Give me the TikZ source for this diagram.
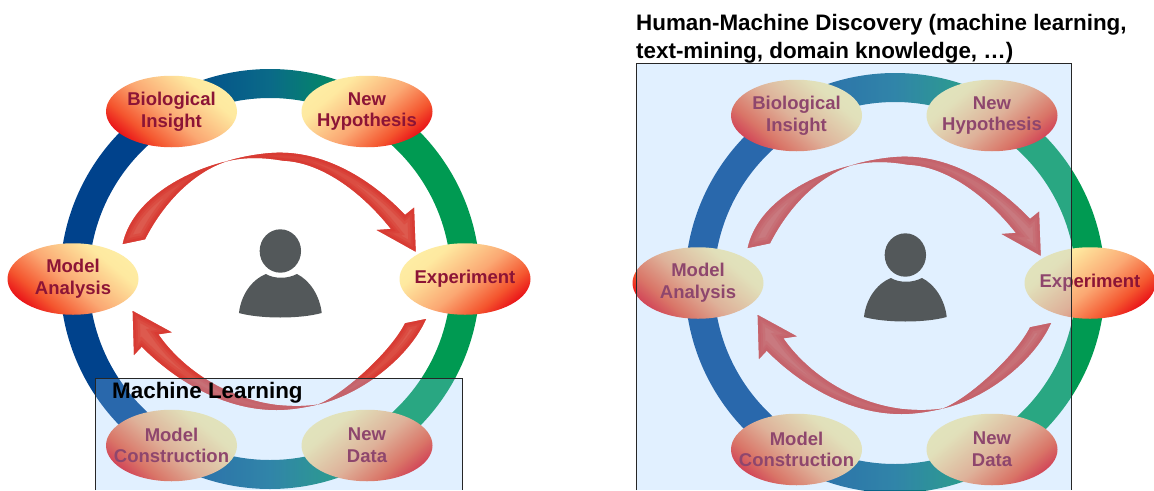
\documentclass[tikz,border=0pt]{standalone}
\usepackage{fontspec}
\setmainfont{Liberation Sans}
\usetikzlibrary{shapes.geometric}
\definecolor{capred}{HTML}{8C1436}
\definecolor{arrowred}{HTML}{DD5A4E}
\definecolor{arrowedge}{HTML}{D8352E}
\definecolor{iconcol}{HTML}{53585A}
\definecolor{boxblue}{RGB}{150,203,255}
\definecolor{ringa}{HTML}{00428C}
\definecolor{ringb}{HTML}{0A6A88}
\definecolor{ringc}{HTML}{009A52}
\definecolor{eyea}{HTML}{E60012}
\definecolor{eyeb}{HTML}{F4552E}
\definecolor{eyec}{HTML}{FBA873}
\definecolor{eyed}{HTML}{FEE9A0}
\definecolor{eyee}{HTML}{FFF8AE}
\pgfdeclarehorizontalshading{ringgrad}{100bp}{
  color(0bp)=(ringa);
  color(36bp)=(ringa);
  color(50bp)=(ringb);
  color(62bp)=(ringc);
  color(100bp)=(ringc)}
\pgfdeclareverticalshading{eyegrad}{100bp}{
  color(0bp)=(eyea);
  color(22bp)=(eyea);
  color(33bp)=(eyeb);
  color(48bp)=(eyec);
  color(68bp)=(eyed);
  color(100bp)=(eyee)}
\tikzset{
  eye/.style={ellipse,minimum width=131pt,minimum height=71.5pt,inner sep=0pt,
    shade,shading=eyegrad},
  eyetext/.style={inner sep=0pt,align=center,text=capred,
    font=\fontsize{18.5pt}{21.7pt}\selectfont\bfseries},
  eyeleft/.style={eye,shading angle=-40},
  eyeright/.style={eye,shading angle=40},
  overlaybox/.style={fill=boxblue,fill opacity=.28,draw=none},
  boxedge/.style={draw=black!85,line width=.9pt},
  heading/.style={anchor=base west,inner sep=0pt,font=\fontsize{22.4pt}{28pt}\selectfont\bfseries,text=black}
}
\newcommand{\toppath}{(122.7,244) .. controls (133,197) and (190,170) .. (226,161.5)
  .. controls (240,157) and (262,152.7) .. (280,152.7)
  .. controls (325,152.7) and (370,178) .. (405,215)
  -- (414,207.7) -- (415.7,251.7) -- (376.7,230) -- (391,229)
  .. controls (360,190) and (320,162) .. (283,160.7)
  .. controls (265,157.5) and (245,156.5) .. (226,161.5)
  .. controls (195,172) and (165,200) .. (145,239.3) -- cycle}
\newcommand{\botpath}{(426,319) .. controls (410,355) and (365,393) .. (318,404.5)
  .. controls (305,407.5) and (290,410) .. (276.7,410)
  .. controls (228,410) and (180,385) .. (141.7,346.7)
  -- (134,355) -- (132.7,311) -- (171.7,332.3) -- (158.3,334.3)
  .. controls (183,370) and (228,399) .. (276.7,405)
  .. controls (292,406.5) and (305,406.5) .. (318,404.5)
  .. controls (345,394) and (392,350) .. (405,323.3) -- cycle}
\newcommand{\softarrow}[1]{%
  \fill[arrowred] #1;
  \begin{scope}
    \clip #1;
    \draw[arrowedge,opacity=.35,line width=14pt] #1;
    \draw[arrowedge,opacity=.4,line width=9pt] #1;
    \draw[arrowedge,opacity=.5,line width=5pt] #1;
  \end{scope}}
\newcommand{\ringfigure}[3]{%
  \begin{scope}[shift={(#2,#3)}]
    \shade[shading=ringgrad,even odd rule] (270,279) circle (210pt) (270,279) circle (181pt);
    \softarrow{\toppath}
    \softarrow{\botpath}
    \node[eyeleft,label={[eyetext]center:{Biological\\Insight}}]  (#1bio) at (171.5,111.5) {};
    \node[eyeright,label={[eyetext]center:{New\\Hypothesis}}]     (#1hyp) at (367,111.5) {};
    \node[eyeleft,label={[eyetext]center:{Model\\Analysis}}]      (#1ana) at (73,279) {};
    \node[eyeright,label={[eyetext]center:{Experiment}}]          (#1exp) at (465,279) {};
    \node[eyeleft,label={[eyetext]center:{Model\\Construction}}]  (#1con) at (171.5,445.5) {};
    \node[eyeright,label={[eyetext]center:{New\\Data}}]           (#1dat) at (367,445.5) {};
  \end{scope}}
\newcommand{\personicon}[2]{%
  \begin{scope}[shift={(#1,#2)},xscale=1.0345]
    \fill[iconcol] (271,251) ellipse (20pt and 21.7pt);
    \fill[iconcol] (231,313) .. controls (233,295) and (243,280) .. (257,274)
      .. controls (265,279) and (278,279) .. (287,274)
      .. controls (299,280) and (309,295) .. (311,313)
      .. controls (290,319) and (252,319) .. (231,313) -- cycle;
  \end{scope}}
\begin{document}
\begin{tikzpicture}[x=1pt,y=-1pt]
  \useasboundingbox (0,0) rectangle (1154,490);
  \fill[white] (0,0) rectangle (1154,490);
  \ringfigure{a}{0}{0}
  \personicon{0}{0}
  \ringfigure{b}{625}{4}
  \fill[overlaybox] (95,378) rectangle (462,490);
  \draw[boxedge] (95,490) -- (95,378) -- (462,378) -- (462,490);
  \fill[overlaybox] (636,63) rectangle (1071,490);
  \draw[boxedge] (636,490) -- (636,63) -- (1071,63) -- (1071,490);
  \personicon{625}{4}
  \node[heading] (mltitle) at (112,398) {Machine Learning};
  \node[heading] (hmtitle1) at (636,30) {Human-Machine Discovery (machine learning,};
  \node[heading] (hmtitle2) at (636,58) {text-mining, domain knowledge, …)};
\end{tikzpicture}
\end{document}
